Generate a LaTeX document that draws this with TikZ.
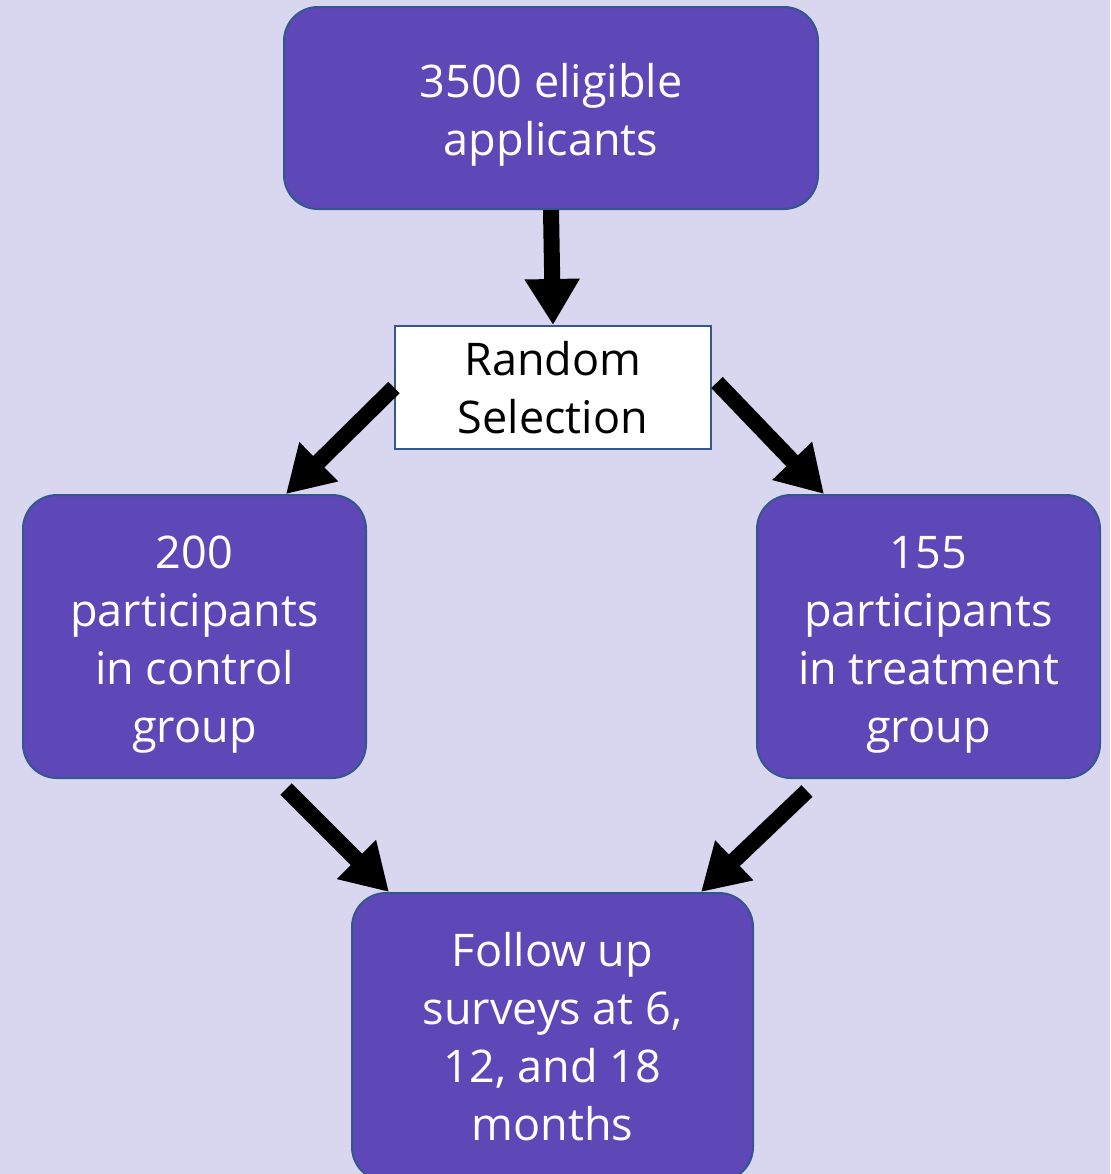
\documentclass[tikz,border=0pt]{standalone}
\usepackage{fontspec}
\setmainfont{Open Sans}
\usetikzlibrary{arrows.meta}
\definecolor{bgcol}{HTML}{D9D6F0}
\definecolor{boxcol}{HTML}{5E48B8}
\definecolor{edgecol}{HTML}{35578F}
\newcommand{\toppad}{\rule{0pt}{24pt}}
\begin{document}
\begin{tikzpicture}[x=0.5pt,y=-0.5pt,
	box/.style={draw=edgecol,line width=1pt,fill=boxcol,rounded corners=17pt,
		text=white,align=center,inner sep=0pt,
		font=\fontsize{22.5}{29}\selectfont},
	selbox/.style={draw=edgecol,line width=1pt,fill=white,text=black,
		align=center,inner sep=0pt,font=\fontsize{22.5}{29}\selectfont},
	flow/.style={line width=8pt,-{Triangle[length=23pt,width=26pt]}}]
	% page and background
	\useasboundingbox[fill=bgcol] (0,0) rectangle (1110,1174);
	% boxes
	\node[box,minimum width=267pt,minimum height=101pt] (appl) at (551,108)
		{\toppad 3500 eligible\\applicants};
	\node[selbox,minimum width=158pt,minimum height=61.5pt] (sel) at (553,387.5)
		{Random\\Selection};
	\node[box,minimum width=171.5pt,minimum height=141.5pt] (ctrl) at (194.5,636.5)
		{\toppad 200\\participants\\in control\\group};
	\node[box,minimum width=171.5pt,minimum height=141.5pt] (trt) at (928.5,636.5)
		{\toppad 155\\participants\\in treatment\\group};
	\node[box,minimum width=200.5pt,minimum height=144pt] (fol) at (552.5,1037)
		{Follow up\\surveys at 6,\\12, and 18\\months};
	% arrows
	\draw[flow] (appl.south) -- (sel.north);
	\draw[flow] (sel.west) -- ([xshift=-40.5pt]ctrl.north east);
	\draw[flow] ([xshift=2.5pt,yshift=2.5pt]sel.east) -- ([xshift=34pt]trt.north west);
	\draw[flow] ([xshift=-40.5pt,yshift=-5pt]ctrl.south east) -- ([xshift=19pt]fol.north west);
	\draw[flow] ([xshift=25.5pt,yshift=-6pt]trt.south west) -- ([xshift=-26.5pt]fol.north east);
\end{tikzpicture}
\end{document}
